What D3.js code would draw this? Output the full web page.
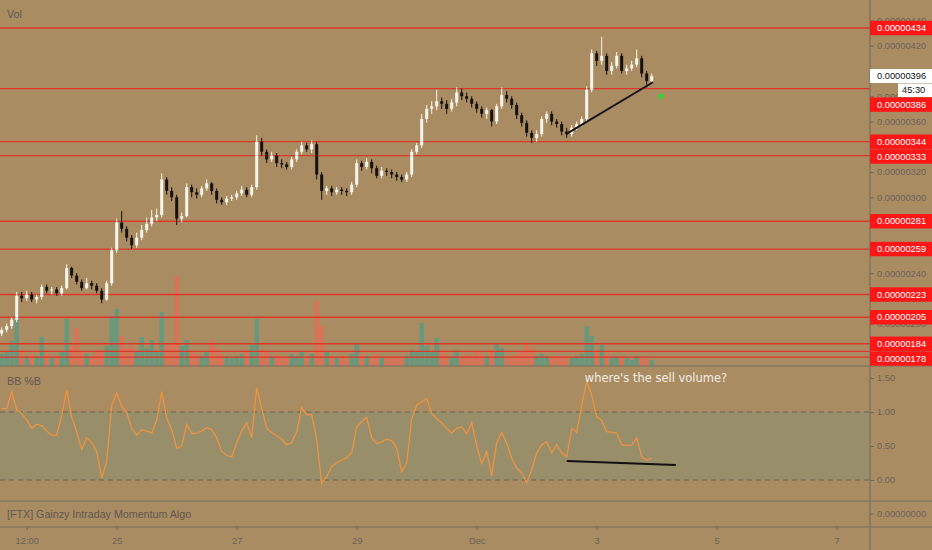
<!DOCTYPE html>
<html>
<head>
<meta charset="utf-8">
<title>Price chart with volume and BB %B</title>
<script src="https://d3js.org/d3.v7.min.js"></script>
<style>
  body { margin: 0; background: #aa8c63; }
  svg { display: block; }
  .axis text { font-family: "Liberation Sans", Arial, sans-serif; font-size: 9.3px; fill: #6a6357; }
  .axis line { stroke: #6f6858; }
  .axis path { display: none; }
</style>
</head>
<body>
<div id="chart"></div>
<script type="text/javascript">
    // prices are in units of 0.00000001, one candle every 2 hours from Nov 23 02:00
    let firstOpen = 192;
    let closes = [
        195,198,203,222,220,223,219,221,229,226,
        227,224,228,244,238,233,228,232,230,226,
        219,232,258,280,275,268,262,268,274,279,
        284,286,314,305,300,283,285,308,304,302,
        307,311,305,298,296,299,300,303,306,302,
        308,344,336,330,333,327,326,324,330,336,
        341,338,342,318,305,307,304,306,305,304,
        310,327,324,328,323,317,321,320,318,316,
        314,318,336,341,362,370,372,376,374,370,
        375,383,380,378,374,370,366,369,360,372,
        381,378,373,365,359,351,347,350,362,366,
        360,358,352,350,355,358,362,385,414,408,
        412,400,404,412,400,402,405,410,398,392,
        396];
    let highs = [
        197,200,205,225,225,226,225,223,231,231,
        229,229,230,247,245,240,235,236,234,232,
        228,234,260,283,289,277,270,272,278,284,
        290,291,319,316,308,302,288,311,310,307,
        309,314,312,307,300,301,302,305,309,308,
        310,349,347,338,336,335,330,328,332,338,
        344,343,345,344,320,309,309,308,308,307,
        312,330,329,331,330,325,324,323,322,320,
        318,320,338,343,366,373,376,385,379,377,
        378,387,386,383,380,376,372,371,370,374,
        387,384,380,375,367,361,353,353,364,368,
        368,362,360,355,357,360,364,388,417,416,
        427,414,407,415,414,405,408,417,412,400,
        398];
    let lows = [
        190,193,196,201,217,218,217,216,219,224,
        223,222,222,227,236,231,226,227,227,224,
        216,218,230,256,272,265,259,260,266,272,
        277,281,284,302,297,278,280,284,300,299,
        300,305,302,295,294,294,297,298,301,300,
        300,306,333,327,328,324,323,322,322,328,
        334,336,335,314,298,302,301,302,302,301,
        302,308,321,322,319,315,315,317,315,313,
        312,312,316,334,339,359,366,369,370,366,
        368,372,377,375,371,367,363,362,356,358,
        370,375,370,362,356,348,343,344,348,359,
        357,355,349,347,348,353,356,360,383,404,
        405,397,397,402,398,397,400,403,395,387,
        390];
    let volumes = [
        12,14,25,46,15,10,12,10,29,12,
        8,10,14,47,20,38,15,12,10,14,
        16,20,50,57,30,18,20,15,29,18,
        26,15,54,20,22,90,20,26,14,12,
        10,14,26,18,12,10,8,10,12,16,
        21,47,16,14,10,12,8,10,12,10,
        14,10,12,65,40,14,10,8,10,8,
        12,23,12,10,8,12,8,10,8,10,
        8,10,16,14,43,20,15,28,14,12,
        10,16,10,12,10,14,12,10,16,22,
        18,10,8,12,14,24,18,10,12,10,
        8,10,8,10,8,10,12,40,30,14,
        21,12,8,10,10,8,6,10,8,7,
        6];
    let pctB = [
        1.05,1.05,1.3,1.03,0.98,0.88,0.76,0.82,0.8,0.72,
        0.66,0.66,0.95,1.32,0.92,0.71,0.45,0.62,0.55,0.42,
        0.03,0.27,1.1,1.28,1.08,1.0,0.76,0.66,0.74,0.72,
        0.69,0.88,1.3,0.91,0.74,0.47,0.5,0.82,0.68,0.69,
        0.72,0.77,0.74,0.62,0.42,0.36,0.34,0.55,0.72,0.84,
        0.62,1.36,1.05,0.76,0.7,0.65,0.6,0.52,0.55,0.71,
        1.06,0.96,0.96,0.59,-0.05,0.05,0.2,0.25,0.29,0.33,
        0.4,0.78,0.86,0.92,0.62,0.54,0.56,0.6,0.58,0.47,
        0.12,0.25,0.9,1.1,1.15,1.2,0.98,0.9,0.84,0.76,
        0.69,0.76,0.78,0.68,0.84,0.5,0.24,0.42,0.06,0.55,
        0.7,0.54,0.32,0.18,0.1,-0.04,0.15,0.4,0.52,0.56,
        0.4,0.52,0.4,0.34,0.76,0.7,1.1,1.45,1.25,0.93,
        0.88,0.71,0.7,0.69,0.52,0.51,0.51,0.62,0.34,0.29,
        0.32];

    let levels = [434, 386, 344, 333, 281, 259, 223, 205, 184, 178];
    let faintLevels = [173.5];
    let priceTicks = [180, 200, 220, 240, 260, 280, 300, 320, 340, 360, 380, 400, 420, 440];
    let bbTicks = [0, 0.5, 1, 1.5];
    let timeTicks = ["2020-11-23T12:00Z", "2020-11-25", "2020-11-27", "2020-11-29",
                     "2020-12-01", "2020-12-03", "2020-12-05", "2020-12-07"];
    let timeLabels = ["12:00", "25", "27", "29", "Dec", "3", "5", "7"];
    let lastPrice = 396;
    let countdown = "45:30";
    let priceTrend = [["2020-12-02T11:45Z", 350], ["2020-12-03T22:30Z", 391]];
    let bbTrend = [["2020-12-02T12:00Z", 0.28], ["2020-12-04T07:40Z", 0.22]];
    let signalDot = ["2020-12-04T01:40Z", 380];
    let note = "where's the sell volume?";

    // layout of the panes
    let W = 932, H = 550;
    let plotRight = 870;
    let mainBottom = 366, bbBottom = 501, algoBottom = 527;

    let svg = d3.select("#chart")
            .append("svg")
                .attr("width", W)
                .attr("height", H);

    svg.append("rect")
        .attr("width", W)
        .attr("height", H)
        .attr("fill", "#aa8c63");

    let xScale = d3.scaleUtc()
                    .domain([new Date("2020-11-25"), new Date("2020-12-07")])
                    .range([116.7, 836.7]);
    let yScale = d3.scaleLinear().domain([320, 420]).range([172, 45.7]);
    let volScale = d3.scaleLinear().domain([0, 100]).range([mainBottom, mainBottom - 100]);
    let bbScale = d3.scaleLinear().domain([0, 1]).range([480, 412]);

    let t0 = Date.UTC(2020, 10, 23, 2);
    let step = 2 * 3600 * 1000;
    let candles = closes.map(function(c, i) {
        return {
            t: new Date(t0 + i * step),
            o: i === 0 ? firstOpen : closes[i - 1],
            h: highs[i], l: lows[i], c: c,
            v: volumes[i], b: pctB[i]
        };
    });
    let barW = xScale(new Date(t0 + step)) - xScale(new Date(t0));

    let defs = svg.append("defs");
    defs.append("clipPath").attr("id", "clipMain")
        .append("rect").attr("x", 0).attr("y", 0).attr("width", plotRight).attr("height", mainBottom);
    defs.append("clipPath").attr("id", "clipBB")
        .append("rect").attr("x", 0).attr("y", mainBottom).attr("width", plotRight).attr("height", bbBottom - mainBottom);

    // ---- main pane ----
    let main = svg.append("g").attr("clip-path", "url(#clipMain)");

    main.selectAll("rect.vol")
        .data(candles)
        .enter()
        .append("rect")
        .attr("class", "vol")
        .attr("x", function(d) { return xScale(d.t) - barW * 0.42; })
        .attr("width", barW * 0.84)
        .attr("y", function(d) { return volScale(d.v); })
        .attr("height", function(d) { return mainBottom - volScale(d.v); })
        .attr("fill", function(d) { return d.c >= d.o ? "#4a9e88" : "#ee6650"; })
        .attr("opacity", 0.72);

    main.selectAll("line.level")
        .data(levels.concat(faintLevels))
        .enter()
        .append("line")
        .attr("class", "level")
        .attr("x1", 0).attr("x2", plotRight)
        .attr("y1", function(d) { return yScale(d); })
        .attr("y2", function(d) { return yScale(d); })
        .attr("stroke", "#dd3528")
        .attr("stroke-width", 1.3);

    let candleG = main.selectAll("g.candle")
        .data(candles)
        .enter()
        .append("g")
        .attr("class", "candle");

    candleG.append("line")
        .attr("x1", function(d) { return xScale(d.t); })
        .attr("x2", function(d) { return xScale(d.t); })
        .attr("y1", function(d) { return yScale(d.h); })
        .attr("y2", function(d) { return yScale(d.l); })
        .attr("stroke", function(d) { return d.c >= d.o ? "#fbf6ec" : "#15120e"; })
        .attr("stroke-width", 1);

    candleG.append("rect")
        .attr("x", function(d) { return xScale(d.t) - barW * 0.3; })
        .attr("width", barW * 0.6)
        .attr("y", function(d) { return yScale(Math.max(d.o, d.c)); })
        .attr("height", function(d) { return Math.max(1, Math.abs(yScale(d.o) - yScale(d.c))); })
        .attr("fill", function(d) { return d.c >= d.o ? "#fbf6ec" : "#15120e"; });

    main.append("line")
        .attr("x1", xScale(new Date(priceTrend[0][0]))).attr("y1", yScale(priceTrend[0][1]))
        .attr("x2", xScale(new Date(priceTrend[1][0]))).attr("y2", yScale(priceTrend[1][1]))
        .attr("stroke", "#111").attr("stroke-width", 1.8);

    main.append("circle")
        .attr("cx", xScale(new Date(signalDot[0])))
        .attr("cy", yScale(signalDot[1]))
        .attr("r", 2.6)
        .attr("fill", "#2fd62f");

    // ---- BB %B pane ----
    let bb = svg.append("g").attr("clip-path", "url(#clipBB)");

    bb.append("rect")
        .attr("x", 0).attr("width", plotRight)
        .attr("y", bbScale(1)).attr("height", bbScale(0) - bbScale(1))
        .attr("fill", "#998e6a");

    bb.selectAll("line.band")
        .data([0, 1])
        .enter()
        .append("line")
        .attr("x1", 0).attr("x2", plotRight)
        .attr("y1", function(d) { return bbScale(d); })
        .attr("y2", function(d) { return bbScale(d); })
        .attr("stroke", "#6c634f")
        .attr("stroke-dasharray", "5,4");

    let bbLine = d3.line()
        .x(function(d) { return xScale(d.t); })
        .y(function(d) { return bbScale(d.b); });

    bb.append("path")
        .datum(candles)
        .attr("d", bbLine)
        .attr("fill", "none")
        .attr("stroke", "#ef9340")
        .attr("stroke-width", 1.3);

    bb.append("line")
        .attr("x1", xScale(new Date(bbTrend[0][0]))).attr("y1", bbScale(bbTrend[0][1]))
        .attr("x2", xScale(new Date(bbTrend[1][0]))).attr("y2", bbScale(bbTrend[1][1]))
        .attr("stroke", "#111").attr("stroke-width", 2);

    svg.append("text")
        .attr("x", 656).attr("y", 382)
        .attr("text-anchor", "middle")
        .attr("font-family", "DejaVu Sans, sans-serif")
        .attr("font-size", "11.5px")
        .attr("fill", "#f4eee4")
        .text(note);

    // pane separators
    svg.selectAll("line.sep")
        .data([mainBottom, bbBottom, algoBottom])
        .enter()
        .append("line")
        .attr("x1", 0).attr("x2", W)
        .attr("y1", function(d) { return d; })
        .attr("y2", function(d) { return d; })
        .attr("stroke", "#766e5f")
        .attr("stroke-width", 1.2);

    svg.append("line")
        .attr("x1", plotRight).attr("x2", plotRight)
        .attr("y1", 0).attr("y2", H)
        .attr("stroke", "#766e5f")
        .attr("stroke-width", 1.2);

    // ---- axes ----
    let labelH = 14.4;

    let priceAxis = d3.axisRight(yScale)
                    .tickValues(priceTicks)
                    .tickSize(4)
                    .tickPadding(3)
                    .tickFormat(function(d) { return (d * 1e-8).toFixed(8); });
    let priceG = svg.append("g")
        .attr("class", "axis")
        .attr("transform", "translate(" + plotRight + ",0)")
        .call(priceAxis);

    let bbAxis = d3.axisRight(bbScale)
                    .tickValues(bbTicks)
                    .tickSize(4)
                    .tickPadding(3)
                    .tickFormat(d3.format(".2f"));
    svg.append("g")
        .attr("class", "axis")
        .attr("transform", "translate(" + plotRight + ",0)")
        .call(bbAxis);

    let algoG = svg.append("g").attr("class", "axis");
    algoG.append("line")
        .attr("x1", plotRight).attr("x2", plotRight + 4)
        .attr("y1", 514).attr("y2", 514);
    algoG.append("text")
        .attr("x", plotRight + 7).attr("y", 514).attr("dy", "0.32em")
        .text("0.00000000");

    let timeAxis = d3.axisBottom(xScale)
                    .tickValues(timeTicks.map(function(s) { return new Date(s); }))
                    .tickSize(3)
                    .tickPadding(7)
                    .tickFormat(function(d, i) { return timeLabels[i]; });
    svg.append("g")
        .attr("class", "axis")
        .attr("transform", "translate(0," + algoBottom + ")")
        .call(timeAxis);

    // level labels on the price scale; the last price block (price + countdown)
    // stays where it is and the red tags get pushed down below it
    let yLast = yScale(lastPrice);
    let blocks = levels.map(function(v) {
        return {v: v, top: yScale(v) - labelH / 2, h: labelH, fixed: false};
    });
    blocks.push({v: lastPrice, top: yLast - 7, h: 28, fixed: true});
    blocks.sort(function(a, b) { return a.top - b.top; });
    for (let i = 1; i < blocks.length; i++) {
        let prevBottom = blocks[i - 1].top + blocks[i - 1].h;
        if (!blocks[i].fixed && blocks[i].top < prevBottom) {
            blocks[i].top = prevBottom + 0.4;
        }
    }
    let tagPos = blocks.filter(function(b) { return !b.fixed; });

    // axis labels hidden right under a tag are not drawn
    priceG.selectAll(".tick text")
        .filter(function(d) {
            let ty = yScale(d);
            return tagPos.some(function(b) { return Math.abs(b.top + labelH / 2 - ty) < 3.5; }) ||
                   Math.abs(yLast - ty) < 6;
        })
        .remove();

    let tags = svg.selectAll("g.tag")
        .data(tagPos)
        .enter()
        .append("g")
        .attr("class", "tag")
        .attr("transform", function(d) { return "translate(" + plotRight + "," + (d.top + labelH / 2) + ")"; });
    tags.append("rect")
        .attr("x", 0).attr("y", -labelH / 2)
        .attr("width", W - plotRight).attr("height", labelH)
        .attr("fill", "#ff1616");
    tags.append("text")
        .attr("x", 7).attr("dy", "0.34em")
        .attr("font-family", "Liberation Sans, Arial, sans-serif")
        .attr("font-size", "9.3px")
        .attr("fill", "#ffffff")
        .text(function(d) { return (d.v * 1e-8).toFixed(8); });

    let last = svg.append("g").attr("transform", "translate(" + plotRight + "," + yLast + ")");
    last.append("rect")
        .attr("x", 0).attr("y", -7)
        .attr("width", W - plotRight).attr("height", 14)
        .attr("fill", "#ffffff");
    last.append("text")
        .attr("x", 7).attr("dy", "0.34em")
        .attr("font-family", "Liberation Sans, Arial, sans-serif")
        .attr("font-size", "9.3px")
        .attr("fill", "#111")
        .text((lastPrice * 1e-8).toFixed(8));
    last.append("rect")
        .attr("x", 28).attr("y", 7.5)
        .attr("width", W - plotRight - 28).attr("height", 13.5)
        .attr("fill", "#ffffff");
    last.append("text")
        .attr("x", 32).attr("y", 14.3).attr("dy", "0.34em")
        .attr("font-family", "Liberation Sans, Arial, sans-serif")
        .attr("font-size", "9.3px")
        .attr("fill", "#111")
        .text(countdown);

    // pane titles
    let titles = [["Vol", 18], ["BB %B", 385], ["[FTX] Gainzy Intraday Momentum Algo", 518]];
    svg.selectAll("text.title")
        .data(titles)
        .enter()
        .append("text")
        .attr("class", "title")
        .attr("x", 7)
        .attr("y", function(d) { return d[1]; })
        .attr("font-family", "Liberation Sans, Arial, sans-serif")
        .attr("font-size", "10.7px")
        .attr("fill", "#5f584f")
        .text(function(d) { return d[0]; });
</script>
</body>
</html>
